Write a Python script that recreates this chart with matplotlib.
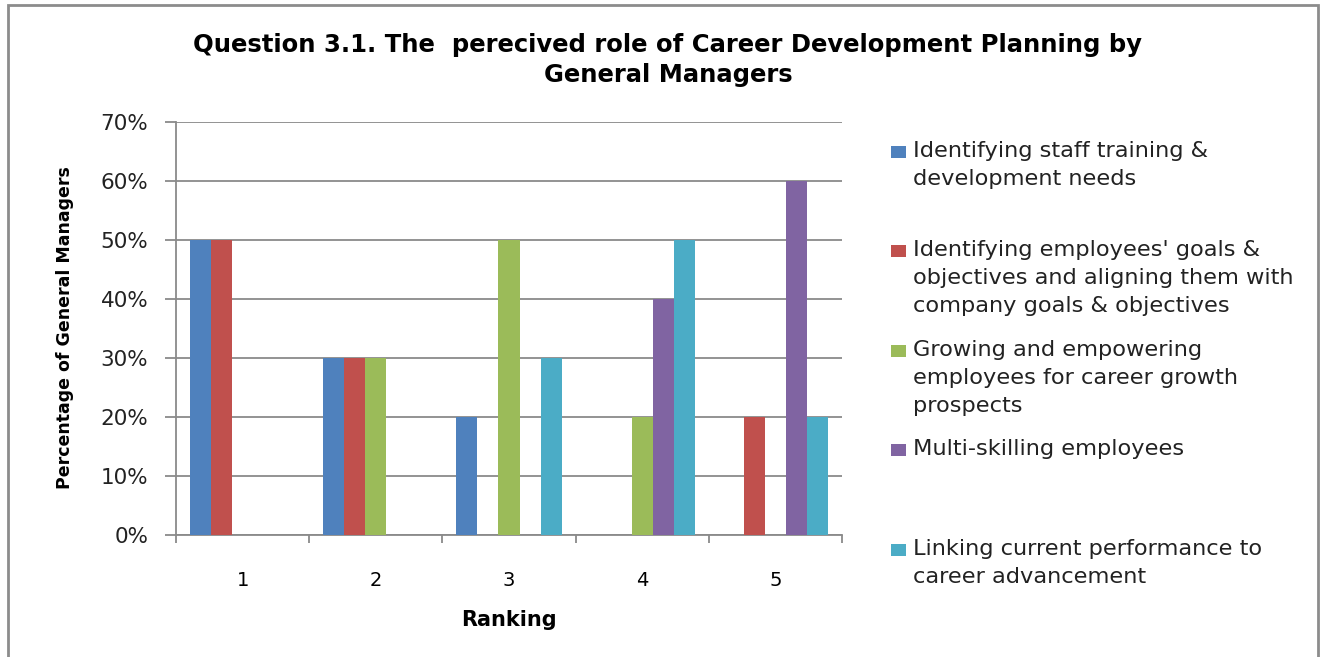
import numpy as np
import matplotlib
matplotlib.use("Agg")
import matplotlib.pyplot as plt
from matplotlib.patches import Rectangle
from matplotlib.ticker import PercentFormatter

# data
rankings = ["1", "2", "3", "4", "5"]
series_names = [
    "Identifying staff training &\ndevelopment needs",
    "Identifying employees' goals &\nobjectives and aligning them with\ncompany goals & objectives",
    "Growing and empowering\nemployees for career growth\nprospects",
    "Multi-skilling employees",
    "Linking current performance to\ncareer advancement",
]
staff_training = [0.50, 0.30, 0.20, 0.0, 0.0]
employee_goals = [0.50, 0.30, 0.0, 0.0, 0.20]
growing = [0.0, 0.30, 0.50, 0.20, 0.0]
multi_skilling = [0.0, 0.0, 0.0, 0.40, 0.60]
linking = [0.0, 0.0, 0.30, 0.50, 0.20]
yticks = [0.0, 0.1, 0.2, 0.3, 0.4, 0.5, 0.6, 0.7]

series = [staff_training, employee_goals, growing, multi_skilling, linking]
colors = ["#4F81BD", "#C0504D", "#9BBB59", "#8064A2", "#4BACC6"]

W, H = 1331, 657
fig = plt.figure(figsize=(W / 100, H / 100), dpi=100)
ax = fig.add_axes([176 / W, 1 - 535 / H, (842 - 176) / W, (535 - 122) / H])

x = np.arange(1, len(rankings) + 1)
bw = 0.158
for j, vals in enumerate(series):
    ax.bar(x + (j - 2) * bw, vals, width=bw, color=colors[j], linewidth=0, zorder=3)

ax.set_xlim(0.5, 5.5)
ax.set_ylim(0, 0.7)
ax.set_yticks(yticks)
ax.yaxis.set_major_formatter(PercentFormatter(1.0, decimals=0))
ax.grid(axis="y", color="#8a8a8a", linewidth=1.3, zorder=0)

# category boundary ticks
ax.set_xticks(np.arange(0.5, 5.6, 1.0))
ax.set_xticklabels([])
ax.set_xticks(x, minor=True)
ax.set_xticklabels(rankings, minor=True, fontsize=14)
ax.tick_params(axis="x", which="major", length=6, color="#8a8a8a", width=1.3, direction="out")
ax.tick_params(axis="x", which="minor", length=0, pad=26)
ax.tick_params(axis="y", length=8, color="#8a8a8a", width=1.3, pad=12, labelsize=15.5, labelcolor="#222222")

for s in ["top", "right"]:
    ax.spines[s].set_visible(False)
for s in ["left", "bottom"]:
    ax.spines[s].set_color("#8a8a8a")
    ax.spines[s].set_linewidth(1.3)

ax.set_xlabel("Ranking", fontweight="bold", fontsize=15, labelpad=14)
fig.text(65 / W, 1 - 328 / H, "Percentage of General Managers", rotation=90,
         ha="center", va="center", fontweight="bold", fontsize=12.5)

fig.text(668 / W, 1 - 60 / H,
         "Question 3.1. The  perecived role of Career Development Planning by\nGeneral Managers",
         ha="center", va="center", fontweight="bold", fontsize=17.5, linespacing=1.3)

# legend drawn by hand (Excel spaces entries in equal slots)
centre0, step = 152, 99.4
for j, name in enumerate(series_names):
    c = centre0 + j * step
    fig.patches.append(Rectangle((891 / W, 1 - (c + 6) / H), 15 / W, 12 / H,
                                 transform=fig.transFigure, facecolor=colors[j], edgecolor="none"))
    fig.text(913 / W, 1 - (c - 11) / H, name, ha="left", va="top", fontsize=16.2,
             linespacing=1.5, color="#222222")

# outer chart border
fig.patches.append(Rectangle((8 / W, -0.02), (1318 - 8) / W, 1.02 - 5 / H,
                             transform=fig.transFigure, facecolor="none",
                             edgecolor="#8c8c8c", linewidth=2))

fig.savefig("out.png", dpi=100)
